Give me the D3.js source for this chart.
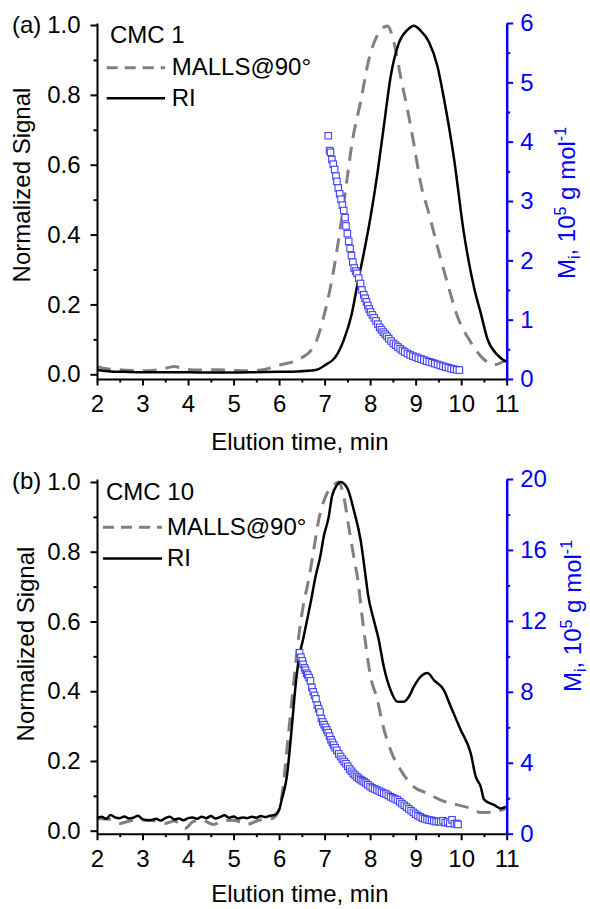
<!DOCTYPE html>
<html><head><meta charset="utf-8">
<script src="https://cdn.jsdelivr.net/npm/d3@7"></script>
<style>body{margin:0;background:#fff} text{font-family:"Liberation Sans",Arial,sans-serif}</style>
</head><body><svg id="c" width="590" height="909"></svg>
<script>
// ---------- data ----------
const xTickValues = [2,3,4,5,6,7,8,9,10,11];
const xMinorTicks = [2.5,3.5,4.5,5.5,6.5,7.5,8.5,9.5,10.5];
const leftTicks = [0,0.2,0.4,0.6,0.8,1.0];
const leftMinor = [0.1,0.3,0.5,0.7,0.9];
const rightTicksA = [0,1,2,3,4,5,6];
const rightMinorA = [0.5,1.5,2.5,3.5,4.5,5.5];
const rightTicksB = [0,4,8,12,16,20];
const rightMinorB = [2,6,10,14,18];
const seriesNames = ["MALLS@90°","RI"];
const panelTitles = ["CMC 1","CMC 10"];
const panelLetters = ["(a)","(b)"];

const cmc1RI = [[2.0,0.012],[2.3,0.008],[2.6,0.007],[3.0,0.006],[3.5,0.006],[4.0,0.006],[4.5,0.005],[5.0,0.005],[5.5,0.006],[6.0,0.007],[6.4,0.008],[6.8,0.012],[7.02,0.027],[7.24,0.05],[7.42,0.098],[7.6,0.175],[7.71,0.25],[7.86,0.346],[8.01,0.451],[8.16,0.575],[8.3,0.709],[8.45,0.852],[8.63,0.948],[8.82,0.986],[8.96,0.998],[9.11,0.984],[9.29,0.952],[9.48,0.881],[9.62,0.79],[9.84,0.62],[10.06,0.404],[10.28,0.25],[10.43,0.175],[10.58,0.10],[10.8,0.055],[10.98,0.036]];

const cmc1MALLS = [[2.0,0.022],[2.2,0.016],[2.5,0.013],[2.8,0.011],[3.1,0.010],[3.4,0.014],[3.7,0.022],[3.9,0.016],[4.2,0.012],[4.6,0.013],[5.0,0.011],[5.3,0.010],[5.6,0.012],[5.85,0.02],[6.03,0.027],[6.4,0.041],[6.76,0.079],[6.98,0.165],[7.16,0.27],[7.35,0.423],[7.5,0.566],[7.6,0.66],[7.79,0.78],[7.97,0.90],[8.16,0.971],[8.38,0.997],[8.52,0.952],[8.67,0.852],[8.85,0.738],[8.96,0.66],[9.11,0.547],[9.29,0.461],[9.48,0.365],[9.7,0.26],[9.92,0.165],[10.21,0.092],[10.43,0.052],[10.72,0.027],[10.98,0.041]];

const cmc1Mi = [[7.08,4.10],[7.11,3.85],[7.13,3.82],[7.16,3.70],[7.19,3.62],[7.22,3.53],[7.25,3.42],[7.27,3.33],[7.30,3.22],[7.33,3.12],[7.36,3.03],[7.39,2.93],[7.42,2.84],[7.45,2.72],[7.47,2.58],[7.50,2.45],[7.53,2.32],[7.56,2.20],[7.59,2.08],[7.62,1.97],[7.65,1.87],[7.68,1.82],[7.71,1.78],[7.75,1.70],[7.79,1.61],[7.82,1.50],[7.86,1.42],[7.89,1.36],[7.92,1.30],[7.95,1.24],[7.98,1.18],[8.01,1.13],[8.05,1.08],[8.09,1.03],[8.13,0.98],[8.17,0.925],[8.21,0.87],[8.25,0.83],[8.29,0.79],[8.33,0.755],[8.37,0.72],[8.41,0.68],[8.46,0.64],[8.51,0.60],[8.56,0.57],[8.61,0.54],[8.66,0.51],[8.71,0.48],[8.76,0.455],[8.82,0.43],[8.88,0.405],[8.94,0.385],[9.00,0.37],[9.06,0.35],[9.12,0.335],[9.18,0.32],[9.24,0.30],[9.30,0.29],[9.36,0.275],[9.42,0.26],[9.48,0.245],[9.54,0.23],[9.60,0.215],[9.66,0.20],[9.72,0.19],[9.78,0.175],[9.84,0.165],[9.90,0.155],[9.96,0.15]];

const cmc10RI = [[2.0,0.036],[2.1,0.040],[2.2,0.034],[2.3,0.045],[2.4,0.038],[2.5,0.036],[2.6,0.041],[2.7,0.035],[2.8,0.037],[2.9,0.043],[3.0,0.033],[3.1,0.030],[3.2,0.031],[3.3,0.034],[3.4,0.029],[3.5,0.036],[3.6,0.040],[3.7,0.032],[3.8,0.035],[3.9,0.030],[4.0,0.036],[4.1,0.038],[4.2,0.034],[4.3,0.040],[4.4,0.036],[4.5,0.042],[4.6,0.035],[4.7,0.039],[4.8,0.044],[4.9,0.037],[5.0,0.041],[5.1,0.035],[5.2,0.038],[5.3,0.036],[5.4,0.040],[5.5,0.037],[5.6,0.042],[5.7,0.039],[5.8,0.043],[5.9,0.045],[6.0,0.06],[6.06,0.09],[6.17,0.155],[6.28,0.298],[6.36,0.413],[6.43,0.49],[6.54,0.556],[6.69,0.652],[6.8,0.728],[6.91,0.79],[6.98,0.843],[7.09,0.9],[7.16,0.958],[7.27,0.991],[7.35,1.0],[7.5,0.982],[7.64,0.92],[7.79,0.834],[7.9,0.73],[7.95,0.68],[8.08,0.604],[8.19,0.547],[8.3,0.47],[8.45,0.403],[8.6,0.37],[8.74,0.37],[8.85,0.384],[8.96,0.413],[9.11,0.442],[9.26,0.452],[9.4,0.432],[9.62,0.403],[9.77,0.356],[9.99,0.289],[10.21,0.222],[10.32,0.155],[10.43,0.126],[10.5,0.09],[10.72,0.074],[10.87,0.064],[10.98,0.069]];

const cmc10MALLS = [[2.0,0.035],[2.3,0.032],[2.5,0.021],[2.7,0.027],[3.0,0.031],[3.3,0.028],[3.5,0.021],[3.7,0.028],[3.94,0.007],[4.1,0.025],[4.3,0.031],[4.55,0.018],[4.8,0.029],[5.0,0.030],[5.3,0.018],[5.55,0.030],[5.85,0.035],[6.0,0.06],[6.1,0.14],[6.2,0.27],[6.32,0.423],[6.43,0.556],[6.54,0.652],[6.65,0.72],[6.76,0.805],[6.87,0.891],[7.02,0.958],[7.2,0.991],[7.31,1.0],[7.42,0.958],[7.53,0.872],[7.64,0.786],[7.75,0.70],[7.79,0.652],[7.9,0.537],[8.01,0.442],[8.16,0.375],[8.27,0.308],[8.45,0.231],[8.67,0.174],[8.96,0.126],[9.26,0.107],[9.55,0.088],[9.92,0.074],[10.21,0.064],[10.43,0.052],[10.72,0.054],[10.98,0.064]];

const cmc10Mi = [[6.45,10.2],[6.48,9.95],[6.51,9.75],[6.53,9.55],[6.56,9.35],[6.58,9.22],[6.61,9.05],[6.63,8.95],[6.66,8.80],[6.69,8.62],[6.72,8.25],[6.75,8.0],[6.78,7.8],[6.81,7.6],[6.84,7.25],[6.87,7.05],[6.90,6.85],[6.93,6.5],[6.96,6.3],[6.99,6.15],[7.02,6.0],[7.05,5.85],[7.08,5.7],[7.11,5.5],[7.14,5.3],[7.17,5.15],[7.20,5.0],[7.23,4.85],[7.27,4.7],[7.31,4.5],[7.35,4.35],[7.39,4.2],[7.43,4.07],[7.47,3.95],[7.51,3.8],[7.55,3.65],[7.59,3.52],[7.63,3.4],[7.67,3.3],[7.71,3.2],[7.75,3.12],[7.79,3.05],[7.83,2.98],[7.87,2.92],[7.91,2.85],[7.95,2.76],[8.00,2.66],[8.05,2.58],[8.10,2.52],[8.15,2.46],[8.20,2.40],[8.25,2.34],[8.30,2.28],[8.35,2.24],[8.40,2.16],[8.45,2.08],[8.50,2.02],[8.55,1.96],[8.60,1.90],[8.65,1.80],[8.70,1.70],[8.75,1.60],[8.80,1.50],[8.85,1.40],[8.90,1.30],[8.95,1.20],[9.00,1.10],[9.05,1.02],[9.10,0.95],[9.15,0.88],[9.20,0.84],[9.25,0.80],[9.30,0.77],[9.35,0.75],[9.40,0.72],[9.45,0.68],[9.50,0.70],[9.55,0.66],[9.60,0.73],[9.65,0.62],[9.70,0.66],[9.75,0.58],[9.80,0.78],[9.85,0.56],[9.90,0.58],[9.93,0.52]];

// ---------- drawing ----------
const svg = d3.select("#c");
const FS = 24;
const BLUE = "#0000ff";
const GRAY = "#808080";

const panels = [
  {top:23, bottom:379, y0:374.3, y1:25, rMax:6, rTicks:rightTicksA, rMinor:rightMinorA,
   ri:cmc1RI, malls:cmc1MALLS, mi:cmc1Mi, title:panelTitles[0], letter:panelLetters[0],
   letterY:32.5, titleX:110, titleY:42.7, legX0:106.7, legX1:165, legTextX:171.7, mallsY:67.7, riY:98.3,
   yTitleX:30, yTitleY:185, rTitleX:575, rTitleY:203, xTitleY:450},
  {top:479, bottom:833.7, y0:830.7, y1:482, rMax:20, rTicks:rightTicksB, rMinor:rightMinorB,
   ri:cmc10RI, malls:cmc10MALLS, mi:cmc10Mi, title:panelTitles[1], letter:panelLetters[1],
   letterY:489, titleX:106, titleY:500, legX0:103, legX1:162, legTextX:167, mallsY:527.3, riY:558.5,
   yTitleX:34, yTitleY:644, rTitleX:581, rTitleY:616, xTitleY:902}
];

const x = d3.scaleLinear().domain([2,11]).range([97,506.7]);

panels.forEach(p => {
  const g = svg.append("g");
  const yL0 = d3.scaleLinear().domain([0,1]).range([p.y0,p.y1]);
  const yL = d3.scaleLinear().domain([yL0.invert(p.bottom), yL0.invert(p.top)]).range([p.bottom,p.top]);
  const yR = d3.scaleLinear().domain([0,p.rMax]).range([p.bottom,p.top]);

  const line = d3.line().x(d=>x(d[0])).y(d=>yL(d[1])).curve(d3.curveMonotoneX);

  g.append("path").datum(p.malls).attr("d",line).attr("fill","none")
    .attr("stroke",GRAY).attr("stroke-width",3).attr("stroke-dasharray","14,9");
  g.append("path").datum(p.ri).attr("d",line).attr("fill","none")
    .attr("stroke","#000").attr("stroke-width",2.5).attr("stroke-linejoin","round");

  const s = 6.5;
  g.append("g").selectAll("rect").data(p.mi).join("rect")
    .attr("x",d=>x(d[0])-s/2).attr("y",d=>yR(d[1])-s/2)
    .attr("width",s).attr("height",s)
    .attr("fill","#fff").attr("stroke","#4040ff").attr("stroke-width",1.1);

  // axes
  const styleAxis = (sel, color) => {
    sel.selectAll("path,line").attr("stroke",color).attr("stroke-width",2);
    sel.selectAll("text").attr("fill",color).attr("font-size",FS)
      .attr("font-family","'Liberation Sans',Arial,sans-serif");
  };
  const xa = g.append("g").attr("transform",`translate(0,${p.bottom})`)
    .call(d3.axisBottom(x).tickValues(xTickValues).tickFormat(d3.format("d")).tickSize(6.5).tickSizeOuter(0).tickPadding(9.5));
  styleAxis(xa,"#000");
  const xm = g.append("g").attr("transform",`translate(0,${p.bottom})`)
    .call(d3.axisBottom(x).tickValues(xMinorTicks).tickFormat("").tickSize(3.5));
  xm.select(".domain").remove(); styleAxis(xm,"#000");

  const ya = g.append("g").attr("transform",`translate(${x(2)},0)`)
    .call(d3.axisLeft(yL).tickValues(leftTicks).tickFormat(d3.format(".1f")).tickSize(6.5).tickSizeOuter(0).tickPadding(10));
  styleAxis(ya,"#000");
  const ym = g.append("g").attr("transform",`translate(${x(2)},0)`)
    .call(d3.axisLeft(yL).tickValues(leftMinor).tickFormat("").tickSize(3.5));
  ym.select(".domain").remove(); styleAxis(ym,"#000");

  const ra = g.append("g").attr("transform",`translate(${x(11)},0)`)
    .call(d3.axisRight(yR).tickValues(p.rTicks).tickFormat(d3.format("d")).tickSize(6.5).tickSizeOuter(0).tickPadding(7));
  styleAxis(ra,BLUE); ra.select(".domain").attr("stroke-width",2.5);
  const rm = g.append("g").attr("transform",`translate(${x(11)},0)`)
    .call(d3.axisRight(yR).tickValues(p.rMinor).tickFormat("").tickSize(3.5));
  rm.select(".domain").remove(); styleAxis(rm,BLUE);

  // texts
  g.append("text").attr("x",12).attr("y",p.letterY).attr("font-size",FS).text(p.letter);
  g.append("text").attr("x",p.titleX).attr("y",p.titleY).attr("font-size",FS).text(p.title);
  g.append("line").attr("x1",p.legX0).attr("x2",p.legX1).attr("y1",p.mallsY).attr("y2",p.mallsY)
    .attr("stroke",GRAY).attr("stroke-width",3).attr("stroke-dasharray","11,7");
  g.append("text").attr("x",p.legTextX).attr("y",p.mallsY+7.5).attr("font-size",FS).text(seriesNames[0]);
  g.append("line").attr("x1",p.legX0).attr("x2",p.legX1).attr("y1",p.riY).attr("y2",p.riY)
    .attr("stroke","#000").attr("stroke-width",2.5);
  g.append("text").attr("x",p.legTextX).attr("y",p.riY+7.5).attr("font-size",FS).text(seriesNames[1]);

  g.append("text").attr("x",(x(2)+x(11))/2 - 2).attr("y",p.xTitleY).attr("text-anchor","middle")
    .attr("font-size",FS).text("Elution time, min");
  g.append("text").attr("transform",`translate(${p.yTitleX},${p.yTitleY}) rotate(-90)`)
    .attr("text-anchor","middle").attr("font-size",FS).text("Normalized Signal");

  const rt = g.append("text").attr("transform",`translate(${p.rTitleX},${p.rTitleY}) rotate(-90)`)
    .attr("text-anchor","middle").attr("font-size",FS).attr("fill",BLUE);
  rt.append("tspan").text("M");
  rt.append("tspan").attr("font-size",16).attr("dy",5).text("i");
  rt.append("tspan").attr("dy",-5).text(", 10");
  rt.append("tspan").attr("font-size",16).attr("dy",-9).text("5");
  rt.append("tspan").attr("dy",9).text(" g mol");
  rt.append("tspan").attr("font-size",16).attr("dy",-9).text("-1");
});
</script></body></html>
